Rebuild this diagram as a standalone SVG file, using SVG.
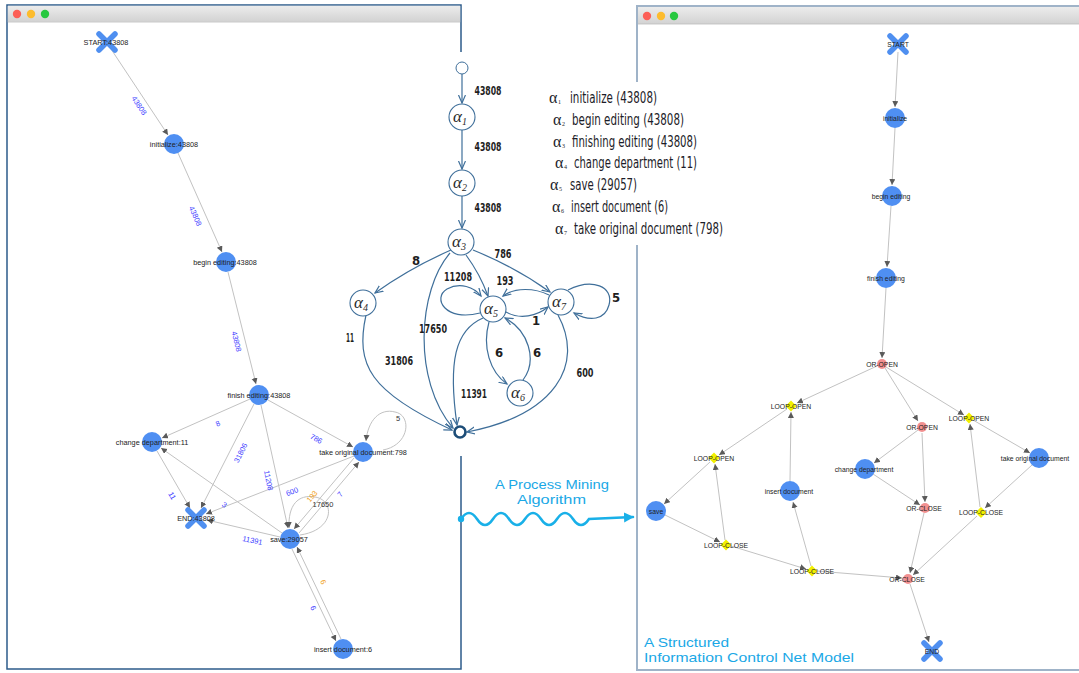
<svg xmlns="http://www.w3.org/2000/svg" width="1079" height="673" viewBox="0 0 1079 673">
<defs>
<linearGradient id="tb" x1="0" y1="0" x2="0" y2="1"><stop offset="0" stop-color="#ececec"/><stop offset="1" stop-color="#d2d2d2"/></linearGradient>
<marker id="ag" markerUnits="userSpaceOnUse" markerWidth="7" markerHeight="7" refX="6" refY="3" orient="auto"><path d="M0,0 L6,3 L0,6 z" fill="#5a5a5a"/></marker>
<marker id="ac" markerUnits="userSpaceOnUse" markerWidth="10" markerHeight="10" refX="8" refY="4" orient="auto"><path d="M0,0.5 L8,4 L0,7.5" fill="none" stroke="#3f6f9a" stroke-width="1.2"/></marker>
<marker id="aw" markerUnits="userSpaceOnUse" markerWidth="12" markerHeight="12" refX="9" refY="5" orient="auto"><path d="M0,0 L10,5 L0,10 z" fill="#19b0e8"/></marker>
<g id="xmark"><path d="M-8,-8 L8,8 M8,-8 L-8,8" stroke="#4f8ff0" stroke-width="5.5" stroke-linecap="round"/></g>
</defs>
<style>
.lbl{font-family:"Liberation Sans",Arial,sans-serif;font-size:7.3px;fill:#222;text-anchor:middle}
.rlbl{font-family:"Liberation Sans",Arial,sans-serif;font-size:6.8px;fill:#222;text-anchor:middle}
.el{font-family:"Liberation Sans",Arial,sans-serif;font-size:7.5px;fill:#3d3dff;text-anchor:middle}
.eo{fill:#f0a020}
.ek{fill:#333}
.ge{stroke:#c2c2c2;stroke-width:1;fill:none;marker-end:url(#ag)}
.bn{fill:#4f8ff2}
.pk{fill:#f29090}
.yd{fill:#f2f000}
.ce{stroke:#3f6f9a;stroke-width:1.2;fill:none;marker-end:url(#ac)}
.cn{fill:#fff;stroke:#3f6f9a;stroke-width:1.1}
.an{font-family:"Liberation Serif","Times New Roman",serif;font-style:italic;font-size:17px;fill:#2a2a2a}
.as{font-family:"Liberation Serif","Times New Roman",serif;font-style:italic;font-size:10px;fill:#2a2a2a}
.cl{font-family:"DejaVu Sans Condensed","DejaVu Sans",sans-serif;font-stretch:condensed;font-weight:bold;font-size:13px;fill:#1e1e1e;text-anchor:middle}
.lg{font-family:"DejaVu Sans Condensed","DejaVu Sans",sans-serif;font-stretch:condensed;font-size:15px;fill:#1c1c28}
.la{font-family:"Liberation Serif","Times New Roman",serif;font-size:16px;fill:#1c1c28}
.ls{font-family:"Liberation Serif","Times New Roman",serif;font-size:6px;fill:#1c1c28}
.cy{font-family:"Liberation Sans",Arial,sans-serif;font-size:13px;fill:#1aa8e6}
</style>
<rect width="1079" height="673" fill="#fff"/>
<!-- left window -->
<g id="left-window">
<rect x="7" y="5" width="454" height="664" fill="#fff" stroke="#2d5b8a" stroke-width="1.5"/>
<rect x="7.8" y="5.8" width="452.4" height="16" fill="url(#tb)"/>
<line x1="7.8" y1="22" x2="460.2" y2="22" stroke="#bdbdbd" stroke-width="0.8"/>
<circle cx="17" cy="14" r="4.2" fill="#fc5f57"/><circle cx="31" cy="14" r="4.2" fill="#fdbc2e"/><circle cx="45" cy="14" r="4.2" fill="#28c840"/>
</g>
<!-- right window -->
<g id="right-window">
<rect x="637" y="6" width="450" height="664" fill="#fff" stroke="#9fb3c8" stroke-width="2"/>
<rect x="638" y="7" width="441" height="17" fill="url(#tb)"/>
<line x1="638" y1="24" x2="1079" y2="24" stroke="#bdbdbd" stroke-width="0.8"/>
<circle cx="647" cy="16" r="4.2" fill="#fc5f57"/><circle cx="661" cy="16" r="4.2" fill="#fdbc2e"/><circle cx="674" cy="16" r="4.2" fill="#28c840"/>
</g>
<!-- covers of the pasted images -->
<rect x="455" y="52" width="14" height="404" fill="#fff"/>
<rect x="631" y="82" width="12" height="163" fill="#fff"/>

<!-- LEFT GRAPH connectors -->
<g id="left-connectors">
<path class="ge" d="M111,49 L168,135"/>
<path class="ge" d="M178,153 L222,252"/>
<path class="ge" d="M228,272 L256,384"/>
<path class="ge" d="M250,399 L162,438"/>
<path class="ge" d="M254,404 L201,508"/>
<path class="ge" d="M261,405 L288,528"/>
<path class="ge" d="M268,400 L353,447"/>
<path class="ge" d="M157,451 L190,508"/>
<path class="ge" d="M282,533 L161,448"/>
<path class="ge" d="M280,537 L207,520"/>
<path class="ge" d="M354,456 L206,514"/>
<path class="ge" d="M299,533 L359,462"/>
<path class="ge" d="M354,458 L294,529"/>
<path class="ge" d="M292,549 L336,641"/>
<path class="ge" d="M341,639 L297,547"/>
<path class="ge" d="M300,535 C335,530 335,500 315,497 C298,494 288,505 289,528"/>
<path class="ge" d="M383,450 C410,445 412,415 395,412 C380,408 368,420 366,441"/>
</g>
<g id="left-edge-labels">
<text class="el" transform="translate(137,107) rotate(56)">43808</text>
<text class="el" transform="translate(193,217) rotate(66)">43808</text>
<text class="el" transform="translate(234,342) rotate(76)">43808</text>
<text class="el" transform="translate(219,426) rotate(-24)">8</text>
<text class="el" transform="translate(315,441) rotate(30)">786</text>
<text class="el" transform="translate(243,454) rotate(-63)">31806</text>
<text class="el" transform="translate(266,481) rotate(78)">11208</text>
<text class="el" transform="translate(293,494) rotate(-22)">600</text>
<text class="el eo" transform="translate(314,498) rotate(-50)">193</text>
<text class="el ek" x="323" y="507">17650</text>
<text class="el" transform="translate(342,496) rotate(-50)">7</text>
<text class="el" transform="translate(170,497) rotate(60)">11</text>
<text class="el" transform="translate(223,507) rotate(35)">3</text>
<text class="el" transform="translate(252,543) rotate(12)">11391</text>
<text class="el eo" transform="translate(321,583) rotate(64)">6</text>
<text class="el" transform="translate(311,609) rotate(64)">6</text>
<text class="el ek" x="398" y="421">5</text>
</g>
<!-- LEFT GRAPH nodes -->
<g id="l-start"><use href="#xmark" x="107" y="42"/><text class="lbl" x="106" y="45">START:43808</text></g>
<g id="l-initialize"><circle class="bn" cx="174" cy="144" r="10"/><text class="lbl" x="174" y="147">initialize:43808</text></g>
<g id="l-begin"><circle class="bn" cx="226" cy="262" r="10"/><text class="lbl" x="225" y="265">begin editing:43808</text></g>
<g id="l-finish"><circle class="bn" cx="259" cy="395" r="10"/><text class="lbl" x="259" y="398">finish editing:43808</text></g>
<g id="l-change"><circle class="bn" cx="152" cy="442" r="10"/><text class="lbl" x="152" y="445">change department:11</text></g>
<g id="l-take"><circle class="bn" cx="363" cy="452" r="10"/><text class="lbl" x="363" y="455">take original document:798</text></g>
<g id="l-end"><use href="#xmark" x="196" y="518"/><text class="lbl" x="196" y="521">END:43808</text></g>
<g id="l-save"><circle class="bn" cx="290" cy="539" r="10"/><text class="lbl" x="289" y="542">save:29057</text></g>
<g id="l-insert"><circle class="bn" cx="343" cy="649" r="10"/><text class="lbl" x="343" y="652">insert document:6</text></g>

<!-- CENTER GRAPH -->
<g id="center-connectors">
<path class="ce" d="M462,74 L462,103"/>
<path class="ce" d="M462,130 L462,169"/>
<path class="ce" d="M462,196 L462,228"/>
<path class="ce" d="M451,250 Q410,268 375,293"/>
<path class="ce" d="M473,250 Q515,267 550,292"/>
<path class="ce" d="M466,255 Q480,274 488,296"/>
<path class="ce" d="M450,253 C418,290 412,380 453,428"/>
<path class="ce" d="M366,315 C355,365 370,392 452,430"/>
<path class="ce" d="M483,318 C455,330 448,362 457,425"/>
<path class="ce" d="M558,315 C585,365 555,415 467,432"/>
<path class="ce" d="M480,313 C445,322 432,298 447,289 C460,282 474,287 481,296"/>
<path class="ce" d="M506,312 C520,320 537,316 548,307"/>
<path class="ce" d="M549,295 C535,288 515,287 503,296"/>
<path class="ce" d="M568,290 C592,278 614,286 609,305 C605,320 590,322 574,313"/>
<path class="ce" d="M489,322 C482,347 490,372 507,384"/>
<path class="ce" d="M523,380 C538,360 528,330 505,318"/>
</g>
<g id="center-edge-labels">
<text class="cl" x="488" y="95" textLength="27" lengthAdjust="spacingAndGlyphs">43808</text>
<text class="cl" x="488" y="151" textLength="27" lengthAdjust="spacingAndGlyphs">43808</text>
<text class="cl" x="488" y="212" textLength="27" lengthAdjust="spacingAndGlyphs">43808</text>
<text class="cl" x="416" y="265">8</text>
<text class="cl" x="503" y="258" textLength="17" lengthAdjust="spacingAndGlyphs">786</text>
<text class="cl" x="458" y="281" textLength="28" lengthAdjust="spacingAndGlyphs">11208</text>
<text class="cl" x="505" y="285" textLength="17" lengthAdjust="spacingAndGlyphs">193</text>
<text class="cl" x="616" y="302">5</text>
<text class="cl" x="350" y="342" textLength="8" lengthAdjust="spacingAndGlyphs">11</text>
<text class="cl" x="433" y="333" textLength="28" lengthAdjust="spacingAndGlyphs">17650</text>
<text class="cl" x="536" y="325">1</text>
<text class="cl" x="399" y="365" textLength="28" lengthAdjust="spacingAndGlyphs">31806</text>
<text class="cl" x="499" y="357">6</text>
<text class="cl" x="537" y="357">6</text>
<text class="cl" x="585" y="377" textLength="17" lengthAdjust="spacingAndGlyphs">600</text>
<text class="cl" x="474" y="398" textLength="26" lengthAdjust="spacingAndGlyphs">11391</text>
</g>
<g id="c-start"><circle cx="462" cy="68" r="6" fill="#fff" stroke="#3f6f9a" stroke-width="1"/></g>
<g id="c-a1"><circle class="cn" cx="462" cy="117" r="13"/><text class="an" x="453" y="122">α<tspan class="as" dy="3">1</tspan></text></g>
<g id="c-a2"><circle class="cn" cx="462" cy="183" r="13"/><text class="an" x="453" y="188">α<tspan class="as" dy="3">2</tspan></text></g>
<g id="c-a3"><circle class="cn" cx="461" cy="242" r="13"/><text class="an" x="452" y="247">α<tspan class="as" dy="3">3</tspan></text></g>
<g id="c-a4"><circle class="cn" cx="363" cy="303" r="13"/><text class="an" x="354" y="308">α<tspan class="as" dy="3">4</tspan></text></g>
<g id="c-a5"><circle class="cn" cx="493" cy="309" r="13"/><text class="an" x="484" y="314">α<tspan class="as" dy="3">5</tspan></text></g>
<g id="c-a6"><circle class="cn" cx="520" cy="393" r="13"/><text class="an" x="511" y="398">α<tspan class="as" dy="3">6</tspan></text></g>
<g id="c-a7"><circle class="cn" cx="561" cy="302" r="13"/><text class="an" x="552" y="307">α<tspan class="as" dy="3">7</tspan></text></g>
<g id="c-end"><circle cx="460" cy="432" r="5.5" fill="#fff" stroke="#1d4d78" stroke-width="2.6"/></g>

<!-- LEGEND -->
<g id="legend">
<text class="la" x="549" y="103">α</text><text class="ls" x="558" y="104">1</text>
<text class="lg" x="570" y="103" textLength="87" lengthAdjust="spacingAndGlyphs">initialize  (43808)</text>
<text class="la" x="553" y="125">α</text><text class="ls" x="562" y="126">2</text>
<text class="lg" x="572" y="125" textLength="112" lengthAdjust="spacingAndGlyphs">begin  editing  (43808)</text>
<text class="la" x="553" y="147">α</text><text class="ls" x="562" y="148">3</text>
<text class="lg" x="572" y="147" textLength="125" lengthAdjust="spacingAndGlyphs">finishing  editing  (43808)</text>
<text class="la" x="555" y="168">α</text><text class="ls" x="564" y="169">4</text>
<text class="lg" x="574" y="168" textLength="123" lengthAdjust="spacingAndGlyphs">change  department  (11)</text>
<text class="la" x="550" y="190">α</text><text class="ls" x="559" y="191">5</text>
<text class="lg" x="570" y="190" textLength="67" lengthAdjust="spacingAndGlyphs">save  (29057)</text>
<text class="la" x="552" y="212">α</text><text class="ls" x="561" y="213">6</text>
<text class="lg" x="571" y="212" textLength="97" lengthAdjust="spacingAndGlyphs">insert  document  (6)</text>
<text class="la" x="555" y="234">α</text><text class="ls" x="564" y="235">7</text>
<text class="lg" x="574" y="234" textLength="149" lengthAdjust="spacingAndGlyphs">take  original  document  (798)</text>
</g>

<!-- wavy arrow and caption -->
<g id="mining-arrow">
<circle cx="461" cy="519" r="3.2" fill="#19b0e8"/>
<path d="M461,519 q8,-12 16,0 t16,0 t16,0 t16,0 t16,0 t16,0 t16,0 t16,0 L633,517" fill="none" stroke="#19b0e8" stroke-width="2.6" stroke-linecap="round" marker-end="url(#aw)"/>
<text class="cy" x="495" y="489" textLength="114" lengthAdjust="spacingAndGlyphs">A Process Mining</text>
<text class="cy" x="517" y="504" textLength="69" lengthAdjust="spacingAndGlyphs">Algorithm</text>
</g>

<!-- RIGHT GRAPH connectors -->
<g id="right-connectors">
<path class="ge" d="M898,52 L895,107"/>
<path class="ge" d="M895,128 L892,185"/>
<path class="ge" d="M891,206 L887,267"/>
<path class="ge" d="M886,288 L882,358"/>
<path class="ge" d="M877,366 L797,403"/>
<path class="ge" d="M885,368 L918,421"/>
<path class="ge" d="M886,367 L964,415"/>
<path class="ge" d="M787,409 L719,455"/>
<path class="ge" d="M790,481 L791,412"/>
<path class="ge" d="M710,462 L664,504"/>
<path class="ge" d="M725,540 L715,464"/>
<path class="ge" d="M665,515 L720,542"/>
<path class="ge" d="M731,546 L806,569"/>
<path class="ge" d="M811,566 L793,502"/>
<path class="ge" d="M817,571 L902,578"/>
<path class="ge" d="M918,430 L874,463"/>
<path class="ge" d="M922,433 L925,502"/>
<path class="ge" d="M873,474 L920,505"/>
<path class="ge" d="M924,513 L910,573"/>
<path class="ge" d="M973,420 L1030,453"/>
<path class="ge" d="M1032,465 L985,508"/>
<path class="ge" d="M980,507 L970,424"/>
<path class="ge" d="M977,516 L913,575"/>
<path class="ge" d="M910,584 L929,642"/>
</g>
<!-- RIGHT GRAPH nodes -->
<g id="r-start"><use href="#xmark" x="898" y="44"/><text class="rlbl" x="898" y="47">START</text></g>
<g id="r-initialize"><circle class="bn" cx="895" cy="118" r="10"/><text class="rlbl" x="895" y="121">initialize</text></g>
<g id="r-begin"><circle class="bn" cx="892" cy="196" r="10"/><text class="rlbl" x="891" y="199">begin editing</text></g>
<g id="r-finish"><circle class="bn" cx="886" cy="278" r="10"/><text class="rlbl" x="886" y="281">finish editing</text></g>
<g id="r-oropen1"><circle class="pk" cx="882" cy="364" r="5"/><text class="rlbl" x="882" y="367">OR-OPEN</text></g>
<g id="r-loopopen1"><path class="yd" d="M791,400.5 L796.5,406 L791,411.5 L785.5,406 z"/><text class="rlbl" x="791" y="409">LOOP-OPEN</text></g>
<g id="r-oropen2"><circle class="pk" cx="922" cy="427" r="5"/><text class="rlbl" x="922" y="430">OR-OPEN</text></g>
<g id="r-loopopen2"><path class="yd" d="M969,412.5 L974.5,418 L969,423.5 L963.5,418 z"/><text class="rlbl" x="969" y="421">LOOP-OPEN</text></g>
<g id="r-loopopen3"><path class="yd" d="M714,452.5 L719.5,458 L714,463.5 L708.5,458 z"/><text class="rlbl" x="714" y="461">LOOP-OPEN</text></g>
<g id="r-change"><circle class="bn" cx="865" cy="469" r="10"/><text class="rlbl" x="864" y="472">change department</text></g>
<g id="r-take"><circle class="bn" cx="1039" cy="458" r="10"/><text class="rlbl" x="1035" y="461">take original document</text></g>
<g id="r-insert"><circle class="bn" cx="790" cy="491" r="10"/><text class="rlbl" x="789" y="494">insert document</text></g>
<g id="r-save"><circle class="bn" cx="656" cy="511" r="10"/><text class="rlbl" x="656" y="514">save</text></g>
<g id="r-orclose1"><circle class="pk" cx="925" cy="508" r="5"/><text class="rlbl" x="924" y="511">OR-CLOSE</text></g>
<g id="r-loopclose1"><path class="yd" d="M981,507 L986.5,512.5 L981,518 L975.5,512.5 z"/><text class="rlbl" x="981" y="515">LOOP-CLOSE</text></g>
<g id="r-loopclose2"><path class="yd" d="M726,539.5 L731.5,545 L726,550.5 L720.5,545 z"/><text class="rlbl" x="726" y="548">LOOP-CLOSE</text></g>
<g id="r-loopclose3"><path class="yd" d="M812,565.5 L817.5,571 L812,576.5 L806.5,571 z"/><text class="rlbl" x="812" y="574">LOOP-CLOSE</text></g>
<g id="r-orclose2"><circle class="pk" cx="908" cy="579" r="5"/><text class="rlbl" x="907" y="582">OR-CLOSE</text></g>
<g id="r-end"><use href="#xmark" x="932" y="651"/><text class="rlbl" x="932" y="654">END</text></g>
<text class="cy" x="644" y="647" textLength="85" lengthAdjust="spacingAndGlyphs">A Structured</text>
<text class="cy" x="644" y="662" textLength="210" lengthAdjust="spacingAndGlyphs">Information Control Net Model</text>
</svg>
